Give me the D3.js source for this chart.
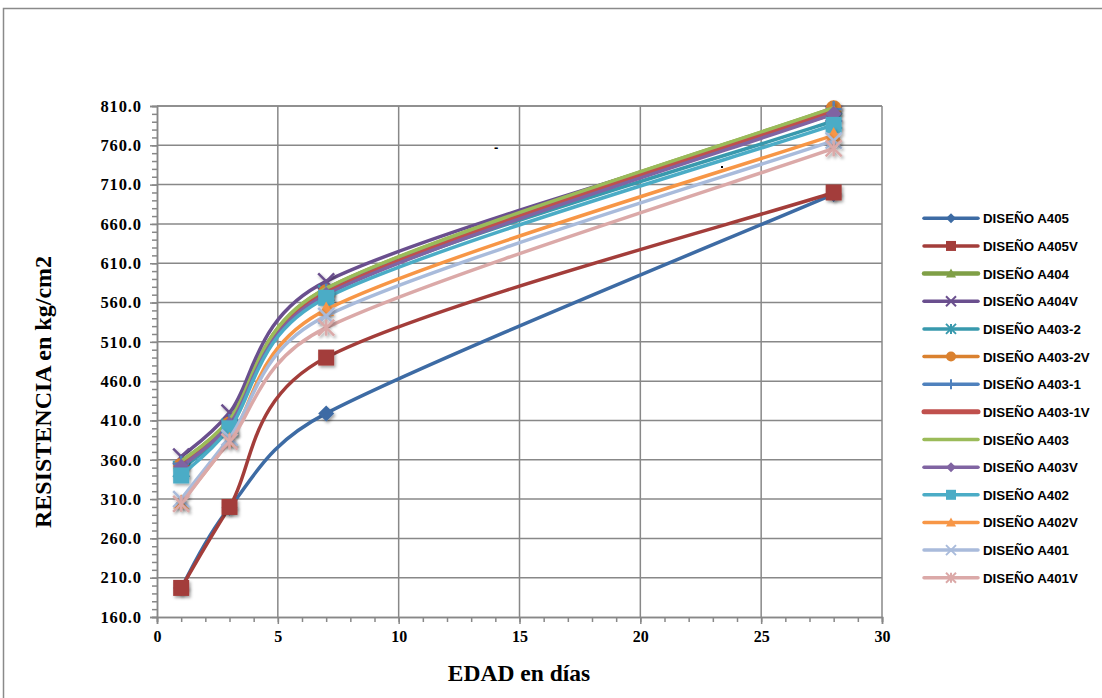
<!DOCTYPE html>
<html><head><meta charset="utf-8">
<script src="https://cdn.jsdelivr.net/npm/d3@7"></script>
<style>body{margin:0;background:#fff}</style>
</head><body><svg id="c" width="1102" height="698"></svg>
<script>
// ---- data ----
const days = [1, 3, 7, 28];
const seriesNames = ["DISEÑO A405","DISEÑO A405V","DISEÑO A404","DISEÑO A404V","DISEÑO A403-2","DISEÑO A403-2V","DISEÑO A403-1","DISEÑO A403-1V","DISEÑO A403","DISEÑO A403V","DISEÑO A402","DISEÑO A402V","DISEÑO A401","DISEÑO A401V"];
const A405   = [197, 299, 419, 698];
const A405V  = [197, 300, 490, 700];
const A404   = [357, 410, 577, 807];
const A404V  = [364, 420, 587, 800];
const A403_2 = [348, 402, 572, 791];
const A403_2V= [352, 405, 573, 807];
const A403_1 = [355, 408, 574, 806];
const A403_1V= [354, 406, 572, 804];
const A403   = [358, 411, 578, 808];
const A403V  = [351, 405, 570, 800];
const A402   = [340, 400, 566, 786];
const A402V  = [306, 385, 551, 773];
const A401   = [310, 388, 543, 766];
const A401V  = [304, 383, 528, 756];
const seriesValues = [A405,A405V,A404,A404V,A403_2,A403_2V,A403_1,A403_1V,A403,A403V,A402,A402V,A401,A401V];
const yTicks = [160,210,260,310,360,410,460,510,560,610,660,710,760,810];
const xTicks = [0,5,10,15,20,25,30];
const xTitle = "EDAD en días";
const yTitle = "RESISTENCIA en kg/cm2";

// ---- styles ----
const colors = ["#3d6ba4","#a33d3a","#7f9f46","#6a4f8e","#3899ad","#da812f","#4f81bd","#c0504d","#9bbb59","#8064a2","#4bacc6","#f79646","#a9bbdb","#dba9a8"];
const markerTypes = ["diamond","square","triangle","x","star","circle","plus","dash","longdash","diamond","square","triangle","x","star"];
const lineWidths = [3.5,3.5,4.5,3.5,3.5,3.5,3.5,5,3.5,3.5,3.5,3.5,3.5,3.5];

const svg = d3.select("#c");
const defs = svg.append("defs");
const f = defs.append("filter").attr("id","sh").attr("x","-50%").attr("y","-50%").attr("width","200%").attr("height","200%");
f.append("feDropShadow").attr("dx",1.5).attr("dy",2).attr("stdDeviation",1.5).attr("flood-color","#000").attr("flood-opacity",0.35);

// frame
svg.append("rect").attr("x",3.5).attr("y",8.5).attr("width",1200).attr("height",800)
  .attr("fill","#fff").attr("stroke","#8a8a8a").attr("stroke-width",1.5);

const x = d3.scaleLinear().domain([0,30]).range([157,882]);
const y = d3.scaleLinear().domain([160,810]).range([617,106]);
const gridC = "#888";

// grid
svg.append("g").selectAll("line").data(yTicks.filter(d=>d>160)).join("line")
  .attr("x1",x(0)).attr("x2",x(30)).attr("y1",d=>y(d)).attr("y2",d=>y(d))
  .attr("stroke",gridC).attr("stroke-width",1.5);
svg.append("g").selectAll("line").data(xTicks.filter(d=>d>0)).join("line")
  .attr("y1",y(160)).attr("y2",y(810)).attr("x1",d=>x(d)).attr("x2",d=>x(d))
  .attr("stroke",gridC).attr("stroke-width",1.5);

// axes
const yMinor = svg.append("g").attr("transform",`translate(${x(0)},0)`)
  .call(d3.axisLeft(y).tickValues(d3.range(160,811,10)).tickSize(5).tickFormat(""));
const yAx = svg.append("g").attr("transform",`translate(${x(0)},0)`)
  .call(d3.axisLeft(y).tickValues(yTicks).tickSize(7).tickPadding(8).tickFormat(d=>d.toFixed(1)));
const xMinor = svg.append("g").attr("transform",`translate(0,${y(160)})`)
  .call(d3.axisBottom(x).tickValues(d3.range(0,31,1)).tickSize(5).tickFormat(""));
const xAx = svg.append("g").attr("transform",`translate(0,${y(160)})`)
  .call(d3.axisBottom(x).tickValues(xTicks).tickSize(7).tickPadding(7));
[yMinor,yAx,xMinor,xAx].forEach(g=>{
  g.selectAll("path,line").attr("stroke",gridC).attr("stroke-width",1.5);
  g.selectAll("text").attr("font-family","'Liberation Serif','Times New Roman',serif")
    .attr("font-weight","bold").attr("font-size",16).attr("fill","#000");
});
yAx.selectAll("text").attr("font-size",16.5).attr("letter-spacing","0.9px");
svg.append("line").attr("x1",x(0)).attr("x2",x(30)).attr("y1",y(810)).attr("y2",y(810)).attr("stroke",gridC).attr("stroke-width",1.5);

// titles
svg.append("text").attr("x",519).attr("y",681).attr("text-anchor","middle")
  .attr("font-family","'Liberation Serif','Times New Roman',serif").attr("font-weight","bold").attr("font-size",23.5).text(xTitle);
svg.append("text").attr("transform","translate(51,392) rotate(-90)").attr("text-anchor","middle")
  .attr("font-family","'Liberation Serif','Times New Roman',serif").attr("font-weight","bold").attr("font-size",24).text(yTitle);

// stray marks
svg.append("text").attr("x",494).attr("y",152).attr("font-family","'Liberation Sans',Arial").attr("font-weight","bold").attr("font-size",13).text("-");
svg.append("rect").attr("x",721).attr("y",166).attr("width",2).attr("height",2).attr("fill","#000");

// markers
function marker(g, type, s, color, lw){
  const h = s/2;
  if(type==="diamond") g.append("path").attr("d",`M0,${-h}L${h},0L0,${h}L${-h},0Z`).attr("fill",color);
  else if(type==="square") g.append("rect").attr("x",-h).attr("y",-h).attr("width",s).attr("height",s).attr("fill",color);
  else if(type==="triangle") g.append("path").attr("d",`M0,${-h}L${h},${h*0.8}L${-h},${h*0.8}Z`).attr("fill",color);
  else if(type==="circle") g.append("circle").attr("r",h).attr("fill",color);
  else {
    const segs=[];
    if(type==="x"||type==="star"){segs.push([-h,-h,h,h]);segs.push([-h,h,h,-h]);}
    if(type==="star"||type==="plus") segs.push([0,-h,0,h]);
    if(type==="plus") segs.push([-h,0,h,0]);
    if(type==="dash") segs.push([-h*0.6,0,h*0.6,0]);
    if(type==="longdash") segs.push([-h,0,h,0]);
    segs.forEach(q=>g.append("line").attr("x1",q[0]).attr("y1",q[1]).attr("x2",q[2]).attr("y2",q[3])
      .attr("stroke",color).attr("stroke-width",lw));
  }
}

// Excel-style smoothing: Bezier with 1/6 tangents, control arms limited to half segment length
function smoothPath(pts){
  const p = d3.path();
  const dist=(a,b)=>Math.hypot(b[0]-a[0],b[1]-a[1]);
  p.moveTo(pts[0][0],pts[0][1]);
  for(let i=0;i<pts.length-1;i++){
    const p0=pts[i-1]||pts[i], p1=pts[i], p2=pts[i+1], p3=pts[i+2]||pts[i+1];
    const d12=dist(p1,p2), d02=dist(p0,p2), d13=dist(p1,p3);
    const f1 = (d02/6 < d12/2) ? 1/6 : d12/(2*d02);
    const f2 = (d13/6 < d12/2) ? 1/6 : d12/(2*d13);
    p.bezierCurveTo(p1[0]+f1*(p2[0]-p0[0]), p1[1]+f1*(p2[1]-p0[1]),
                    p2[0]-f2*(p3[0]-p1[0]), p2[1]-f2*(p3[1]-p1[1]), p2[0], p2[1]);
  }
  return p.toString();
}

const plot = svg.append("g");
seriesValues.forEach((vals,i)=>{
  const pts = days.map((d,j)=>[x(d),y(vals[j])]);
  const g = plot.append("g");
  g.append("path").attr("d",smoothPath(pts)).attr("fill","none").attr("stroke",colors[i])
    .attr("stroke-width",lineWidths[i]).attr("stroke-linejoin","round").attr("stroke-linecap","round");
  pts.forEach(p=>{
    const m = g.append("g").attr("transform",`translate(${p[0]},${p[1]})`).attr("filter","url(#sh)");
    marker(m, markerTypes[i], 16, colors[i], 2.5);
  });
});

// legend
const leg = svg.append("g");
seriesNames.forEach((name,i)=>{
  const by = 223.3 + i*27.65;
  const ly = by - 5;
  const g = leg.append("g");
  g.append("line").attr("x1",924).attr("x2",978).attr("y1",ly).attr("y2",ly)
    .attr("stroke",colors[i]).attr("stroke-width",lineWidths[i]).attr("stroke-linecap","round");
  const m = g.append("g").attr("transform",`translate(951,${ly})`);
  if(markerTypes[i]!=="dash" && markerTypes[i]!=="longdash") marker(m, markerTypes[i], 10, colors[i], 2);
  g.append("text").attr("x",983).attr("y",by).attr("font-family","'Liberation Sans',Arial,sans-serif")
    .attr("font-weight","bold").attr("font-size",13.3).attr("fill","#000").text(name);
});
</script></body></html>
